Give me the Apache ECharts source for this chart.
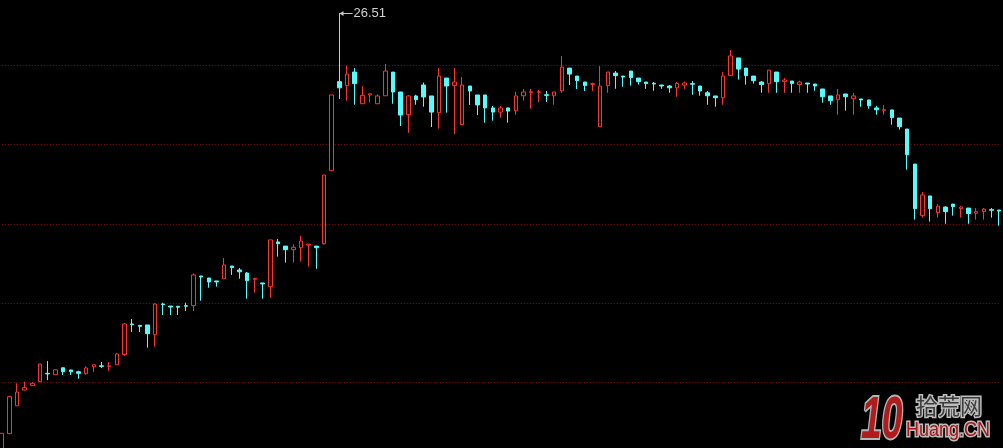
<!DOCTYPE html>
<html><head><meta charset="utf-8">
<script src="https://cdn.jsdelivr.net/npm/echarts/dist/echarts.min.js"></script>
<style>html,body{margin:0;padding:0;background:#000;}#c{width:1003px;height:448px;}</style>
</head><body><div id="c"></div><script>
// ---- data (price values) ----
const opens = [4.56,5.38,6.78,7.57,7.79,7.99,8.41,8.34,8.69,8.58,8.49,8.39,8.74,8.79,8.76,8.84,9.35,10.89,10.82,10.84,
10.35,11.89,11.79,11.78,11.81,11.81,13.30,13.20,13.05,13.16,13.80,13.60,13.45,13.13,12.95,12.76,15.01,14.80,14.62,14.72,
14.85,14.80,14.92,18.59,23.06,22.86,23.54,21.95,22.39,21.95,22.35,23.54,22.54,21.40,22.34,22.89,22.34,21.50,23.24,22.86,
20.90,22.84,22.39,22.39,21.74,21.53,21.74,21.60,22.35,22.52,22.52,22.40,22.35,22.60,23.74,23.34,23.04,22.93,20.80,22.86,
23.49,23.34,23.59,23.24,23.04,22.98,22.89,22.84,22.75,22.89,22.96,22.84,22.50,22.34,22.25,23.36,24.25,23.74,23.34,23.04,
22.96,23.54,23.06,23.09,22.91,22.99,22.94,22.69,22.34,22.15,22.44,22.20,22.19,22.14,21.74,21.62,21.64,21.23,20.68,18.92,
16.33,17.32,16.48,16.76,16.91,16.68,16.71,16.45,16.53,16.63,16.61];
const closes = [5.40,7.24,7.47,7.69,7.91,8.88,8.38,8.59,8.49,8.49,8.41,8.68,8.84,8.76,8.79,9.38,10.89,10.85,10.77,10.40,
11.89,11.86,11.74,11.73,11.78,13.35,13.25,13.00,13.00,13.85,13.72,13.51,13.06,13.18,12.90,15.11,14.92,14.62,14.74,15.06,
14.90,14.72,18.37,22.39,22.75,23.44,22.96,22.37,22.45,22.34,23.59,22.54,21.38,22.34,22.15,22.29,21.53,23.34,22.84,23.04,
22.89,22.59,21.89,21.74,21.53,21.74,21.58,22.34,22.54,22.55,22.55,22.37,22.54,23.79,23.44,23.11,22.86,22.96,22.84,23.54,
23.36,23.29,23.26,23.06,22.96,22.94,22.84,22.75,22.96,22.99,22.93,22.59,22.35,22.25,23.34,24.35,23.69,23.36,23.11,22.91,
23.64,23.06,23.14,22.96,23.04,22.94,22.84,22.30,22.10,22.39,22.30,22.34,22.14,21.85,21.65,21.65,21.25,20.80,19.39,16.68,
17.37,16.68,16.81,16.53,16.78,16.76,16.43,16.53,16.66,16.60,16.56];
const lows = [4.46,5.36,6.78,7.57,7.79,7.99,8.07,8.34,8.33,8.33,8.14,8.34,8.48,8.68,8.54,8.84,9.30,10.49,10.49,9.70,
9.75,11.34,11.34,11.34,11.54,11.54,12.06,12.71,12.76,13.16,13.35,13.16,12.16,12.46,12.16,12.21,14.27,13.97,13.97,14.02,
13.77,13.66,14.87,18.57,22.19,22.10,21.90,21.95,22.02,21.95,22.35,21.95,20.83,20.49,21.90,21.80,20.78,20.70,21.50,20.43,
20.90,21.89,21.38,21.00,21.10,21.25,21.00,21.40,22.10,21.70,22.04,22.04,21.90,22.50,22.89,22.69,22.59,22.59,20.80,22.50,
22.70,22.80,22.86,22.91,22.70,22.60,22.70,22.50,22.30,22.70,22.40,22.35,21.90,21.80,21.90,23.36,23.16,22.91,22.96,22.50,
22.50,22.50,22.50,22.50,22.50,22.50,22.60,22.00,21.90,21.40,21.60,21.40,21.80,21.70,21.40,21.40,20.90,20.65,18.64,16.13,
16.23,16.03,16.23,15.92,16.33,16.23,15.92,16.13,16.13,16.23,15.82];
const highs = [5.40,7.27,7.91,7.99,7.96,8.88,9.03,8.61,8.69,8.58,8.54,8.76,8.84,8.98,8.98,9.42,10.94,11.14,10.82,10.84,
11.93,11.96,11.79,11.78,11.96,13.43,13.30,13.20,13.05,14.20,13.80,13.70,13.50,13.21,12.95,15.11,15.16,14.80,14.90,15.31,
14.90,14.80,18.37,22.39,26.51,23.86,23.74,22.83,22.45,22.42,23.95,23.54,22.54,22.39,22.40,23.01,22.34,23.74,23.24,23.74,
23.29,22.84,22.39,22.39,21.84,21.84,21.74,22.55,22.69,22.69,22.64,22.59,22.54,24.35,23.74,23.34,23.04,23.01,23.84,23.54,
23.59,23.34,23.59,23.24,23.04,23.04,22.89,22.89,23.04,23.06,23.09,22.84,22.59,22.34,23.54,24.65,24.25,23.74,23.34,23.09,
23.64,23.54,23.24,23.09,23.11,22.99,22.94,22.69,22.34,22.69,22.44,22.49,22.19,22.14,21.84,21.89,21.64,21.23,20.68,18.92,
17.52,17.32,16.91,16.81,16.91,16.81,16.71,16.71,16.71,16.71,16.61];
// price axis: dotted grid lines every gridStep, from the lowest to the highest grid line
const gridStep = 3.98;
const yMin = 7.96;   // lowest dotted line
const yMax = 23.88;  // highest dotted line

const categories = opens.map((_, i) => String(i + 1));
const ohlc = opens.map((o, i) => [o, closes[i], lows[i], highs[i]]);

const RED = '#ff3232', CYAN = '#54fcfc';
const chart = echarts.init(document.getElementById('c'), null, {renderer: 'canvas'});
chart.setOption({
  backgroundColor: '#000',
  animation: false,
  grid: {left: 1.7, right: 3.8, top: 65.3, bottom: 65.7},
  xAxis: {type: 'category', data: categories, boundaryGap: false,
    axisLine: {show: false}, axisTick: {show: false}, axisLabel: {show: false}, splitLine: {show: false}},
  yAxis: {type: 'value', min: yMin, max: yMax, interval: gridStep,
    axisLine: {show: false}, axisTick: {show: false}, axisLabel: {show: false},
    splitLine: {show: true, showMinLine: true, showMaxLine: true,
      lineStyle: {color: '#8c0f0f', type: [1, 2], width: 1}}},
  series: [{
    type: 'candlestick', data: ohlc, barWidth: 4, clip: false,
    itemStyle: {color: '#000', color0: CYAN, borderColor: RED, borderColor0: CYAN, borderWidth: 1}
  }]
});

// max-high annotation
let hi = 0;
highs.forEach((h, i) => { if (h > highs[hi]) hi = i; });
const p = chart.convertToPixel({seriesIndex: 0}, [hi, highs[hi]]);
const px = Math.round(p[0]) + 0.5, py = Math.round(p[1]) + 0.5;

chart.setOption({
  graphic: [
    {type: 'polygon', shape: {points: [[px, py], [px + 4, py - 2.5], [px + 4, py + 2.5]]}, style: {fill: '#c8c8c8'}, silent: true},
    {type: 'line', shape: {x1: px + 3, y1: py, x2: px + 13, y2: py}, style: {stroke: '#c8c8c8', lineWidth: 1}, silent: true},
    {type: 'text', x: px + 14, y: py, style: {text: highs[hi].toFixed(2), fill: '#d2d2d2',
      font: '13px "Liberation Sans", Arial, sans-serif', textVerticalAlign: 'middle', textAlign: 'left'}, silent: true},
    // watermark logo
    {type: 'text', x: 861, y: 421, scaleX: 0.62, style: {text: '10', fill: '#b01c1c', stroke: '#b4b4b4', lineWidth: 4,
      font: 'italic bold 60px "Liberation Sans", Arial, sans-serif', textVerticalAlign: 'middle', textAlign: 'left'}, silent: true},
    {type: 'text', x: 916, y: 406, style: {text: '拾荒网', fill: '#3c3c3c', stroke: '#bcbcbc', lineWidth: 3,
      font: '22px "Noto Sans CJK SC", sans-serif', textVerticalAlign: 'middle', textAlign: 'left'}, silent: true},
    {type: 'text', x: 906, y: 430, scaleX: 0.9, style: {text: 'Huang.CN', fill: '#a81818', stroke: '#bcbcbc', lineWidth: 3,
      font: '20px "Liberation Sans", Arial, sans-serif', textVerticalAlign: 'middle', textAlign: 'left'}, silent: true}
  ]
});
</script></body></html>
